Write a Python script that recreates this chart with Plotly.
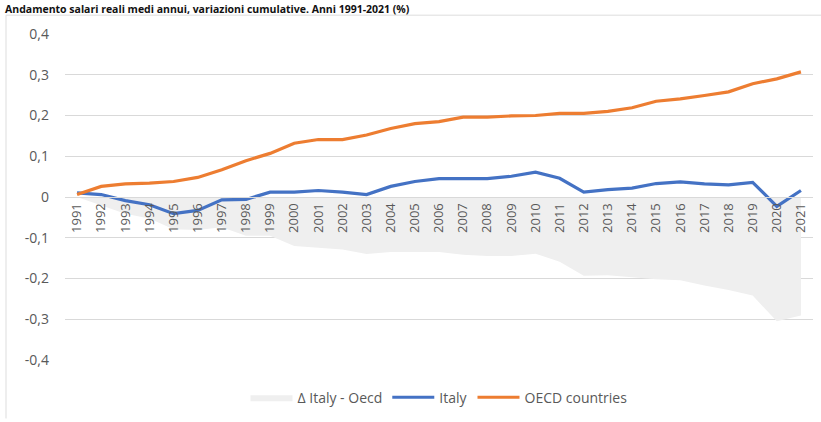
import plotly.graph_objects as go

years = [str(y) for y in range(1991, 2022)]
italy = [0.010, 0.006, -0.009, -0.019, -0.041, -0.033, -0.007, -0.006, 0.012, 0.012,
         0.016, 0.012, 0.006, 0.026, 0.038, 0.045, 0.045, 0.045, 0.051, 0.061,
         0.046, 0.012, 0.018, 0.022, 0.033, 0.037, 0.032, 0.030, 0.036, -0.023, 0.016]
oecd = [0.006, 0.026, 0.032, 0.034, 0.038, 0.048, 0.067, 0.089, 0.107, 0.132,
        0.141, 0.141, 0.152, 0.168, 0.180, 0.185, 0.196, 0.196, 0.199, 0.200,
        0.205, 0.205, 0.210, 0.219, 0.235, 0.241, 0.249, 0.258, 0.278, 0.290, 0.307]
delta = [0.000, -0.020, -0.041, -0.053, -0.079, -0.081, -0.074, -0.095, -0.095, -0.120,
         -0.125, -0.129, -0.140, -0.135, -0.135, -0.135, -0.142, -0.145, -0.145, -0.139,
         -0.159, -0.193, -0.192, -0.197, -0.202, -0.204, -0.217, -0.228, -0.242, -0.305, -0.291]
y_ticks = [0.4, 0.3, 0.2, 0.1, 0, -0.1, -0.2, -0.3, -0.4]
y_labels = ["0,4", "0,3", "0,2", "0,1", "0", "-0,1", "-0,2", "-0,3", "-0,4"]
title_text = "Andamento salari reali medi annui, variazioni cumulative. Anni 1991-2021 (%)"

W, H = 821, 422
ML, MR, MT, MB = 65, 8, 34, 59
PW, PH = W - ML - MR, H - MT - MB

def px_x(px):
    return (px - ML) / PW

def px_y(py):
    return (H - MB - py) / PH

FONT = "'Open Sans', sans-serif"
GREY_TXT = "#595959"
GRID = "#d9d9d9"

fig = go.Figure()
fig.add_trace(go.Scatter(
    x=years, y=delta, name="Δ Italy - Oecd", mode="lines",
    line=dict(width=0, color="#efefef"), fill="tozeroy", fillcolor="#efefef",
    hoverinfo="skip"))
fig.add_trace(go.Scatter(
    x=years, y=italy, name="Italy", mode="lines",
    line=dict(width=3.2, color="#4472C4")))
fig.add_trace(go.Scatter(
    x=years, y=oecd, name="OECD countries", mode="lines",
    line=dict(width=3.2, color="#ED7D31")))

fig.update_layout(
    width=W, height=H,
    margin=dict(l=ML, r=MR, t=MT, b=MB, pad=0),
    paper_bgcolor="white", plot_bgcolor="white",
    font=dict(family=FONT, size=13, color=GREY_TXT),
    showlegend=True,
    legend=dict(orientation="h", x=0.5, xanchor="center", y=px_y(401), yanchor="middle",
                font=dict(family=FONT, size=14, color=GREY_TXT), traceorder="normal",
                bgcolor="rgba(0,0,0,0)", itemwidth=42),
    xaxis=dict(type="category", range=[-0.5, len(years) - 0.5], anchor="free",
               position=0.5, showgrid=False, showline=True, linecolor=GRID, linewidth=1,
               ticks="", tickangle=-90, tickfont=dict(family=FONT, size=13, color=GREY_TXT),
               zeroline=False, fixedrange=True),
    yaxis=dict(range=[-0.4, 0.4], tickvals=y_ticks, ticktext=y_labels, showgrid=True,
               gridcolor=GRID, gridwidth=1, zeroline=True, zerolinecolor=GRID,
               zerolinewidth=1, showline=False, ticks="", ticklabelstandoff=15,
               tickfont=dict(family=FONT, size=14, color=GREY_TXT), fixedrange=True),
    annotations=[
        dict(text="<b>" + title_text + "</b>", xref="paper", yref="paper",
             x=px_x(4), y=px_y(1), xanchor="left", yanchor="top", showarrow=False,
             borderpad=0, font=dict(family=FONT, size=10.5, color="#111111")),
    ],
    shapes=[
        dict(type="line", xref="paper", yref="paper", x0=px_x(6), x1=px_x(6),
             y0=px_y(15), y1=px_y(422), line=dict(color="#dddddd", width=1)),
        dict(type="line", xref="paper", yref="paper", x0=px_x(6), x1=px_x(821),
             y0=px_y(15), y1=px_y(15), line=dict(color="#dddddd", width=1)),
    ],
)

fig.write_html("out.html")
